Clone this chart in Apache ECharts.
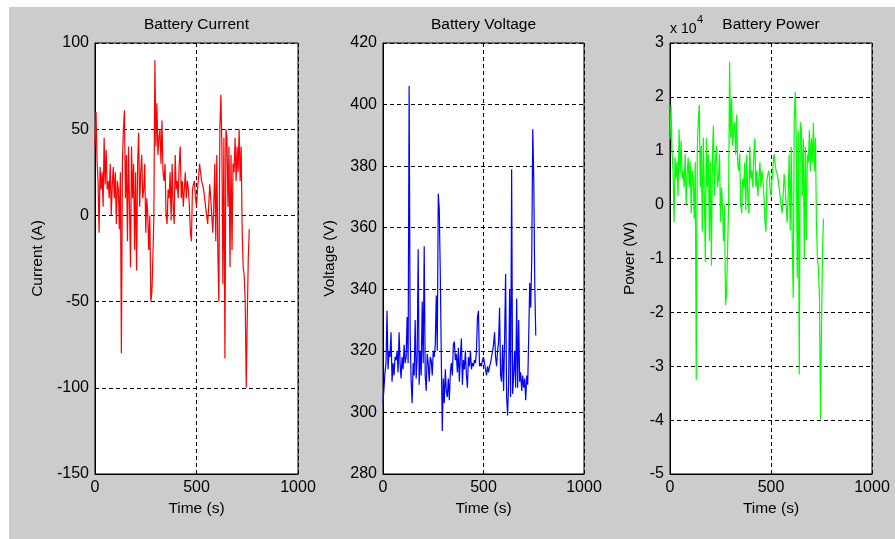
<!DOCTYPE html>
<html>
<head>
<meta charset="utf-8">
<script src="https://cdn.jsdelivr.net/npm/echarts@6/dist/echarts.min.js"></script>
<style>
  html, body { margin:0; padding:0; background:#ffffff; }
  #bg { position:absolute; left:9px; top:7px; width:886px; height:532px; background:#cccccc; }
  #chart { position:absolute; left:0; top:0; width:895px; height:539px; }
</style>
</head>
<body>
<div id="bg"></div>
<div id="chart"></div>
<script>
// sampling step of the recorded drive cycle (s)
const TIME_STEP = 5;
const TIME_TICKS = [0, 500, 1000];

// Battery current (A), one value every 5 s starting at t = 0
const currentA = [
  40, 60, 32, 20, -10, 28, 15, 25, 5, 45,
  18, 38, 15, 20, 10, 30, 0, 18, 28, 10,
  25, -5, 20, 15, -8, 25, -80, 30, 50, 61,
  10, 35, -15, 40, 5, -30, 40, 10, 30, -20,
  25, -32, 30, 48, 5, 25, 35, 10, 15, 30,
  -10, 10, 0, -20, 0, -50, -45, -25, 0, 90,
  40, 65, 35, 45, 50, 30, 55, 25, 20, 30,
  0, -5, 15, 10, 25, -3, 30, 5, -5, 35,
  15, 20, 10, 30, 40, 10, 20, 5, 15, 25,
  10, 20, 15, 5, -10, -15, 15, 18, 20, 10,
  5, 15, 22, 30, 25, 20, 18, 15, 10, 5,
  0, -5, 5, 18, 10, 0, -10, 5, 30, -15,
  35, -20, -50, 50, 70, 40, -40, 45, -83, 50,
  45, 5, 40, -30, 35, -20, 30, 25, 45, 20,
  40, 25, 50, 20, 40, -10, -30, -35, -50, -100,
  -60, -25, -8
];

// Battery voltage (V), same sampling
const voltageV = [
  303, 308, 313, 316, 333, 314, 320, 318, 326, 310,
  316, 312, 318, 317, 320, 313, 326, 316, 311, 318,
  314, 322, 316, 318, 331, 316, 406, 326, 310, 303,
  316, 312, 330, 311, 318, 353, 309, 320, 312, 336,
  316, 354, 312, 307, 319, 316, 310, 318, 317, 312,
  320, 318, 322, 338, 320, 371, 366, 345, 318, 294,
  311, 303, 314, 307, 305, 311, 304, 313, 316, 312,
  322, 323, 317, 319, 313, 321, 310, 318, 324, 309,
  317, 314, 320, 312, 308, 318, 315, 320, 314, 316,
  315, 317, 316, 320, 331, 333, 315, 316, 315, 317,
  318, 316, 314, 312, 315, 313, 315, 316, 318, 320,
  322, 326, 318, 315, 320, 323, 334, 312, 310, 322,
  307, 324, 345, 305, 299, 310, 340, 305, 379, 306,
  312, 320, 308, 337, 308, 330, 310, 313, 307, 312,
  308, 311, 304, 312, 309, 325, 342, 334, 350, 392,
  376, 342, 325
];

// Battery power (x 10^4 W), same sampling
const powerE4 = [
  1.21, 1.85, 1.00, 0.63, -0.33, 0.88, 0.48, 0.80, 0.16, 1.40,
  0.57, 1.19, 0.48, 0.63, 0.32, 0.94, 0.00, 0.57, 0.87, 0.32,
  0.79, -0.16, 0.63, 0.48, -0.26, 0.79, -3.25, 0.98, 1.55, 1.85,
  0.32, 1.09, -0.50, 1.24, 0.16, -1.06, 1.24, 0.32, 0.94, -0.67,
  0.79, -1.13, 0.94, 1.47, 0.16, 0.79, 1.09, 0.32, 0.48, 0.94,
  -0.32, 0.32, 0.00, -0.68, 0.00, -1.86, -1.65, -0.86, 0.00, 2.65,
  1.24, 1.97, 1.10, 1.38, 1.53, 0.93, 1.67, 0.78, 0.63, 0.94,
  0.00, -0.16, 0.48, 0.32, 0.78, -0.10, 0.93, 0.16, -0.16, 1.08,
  0.48, 0.63, 0.32, 0.94, 1.23, 0.32, 0.63, 0.16, 0.47, 0.79,
  0.32, 0.63, 0.47, 0.16, -0.33, -0.50, 0.47, 0.57, 0.63, 0.32,
  0.16, 0.47, 0.69, 0.94, 0.79, 0.63, 0.57, 0.47, 0.32, 0.16,
  0.00, -0.16, 0.16, 0.57, 0.32, 0.00, -0.33, 0.16, 0.93, -0.48,
  1.07, -0.65, -1.73, 1.53, 2.09, 1.24, -1.36, 1.37, -3.15, 1.53,
  1.40, 0.16, 1.23, -1.01, 1.08, -0.66, 0.93, 0.78, 1.38, 0.62,
  1.23, 0.78, 1.52, 0.62, 1.24, -0.33, -1.03, -1.17, -1.75, -3.98,
  -2.26, -0.86, -0.26
];

const TITLES = ['Battery Current', 'Battery Voltage', 'Battery Power'];
const Y_NAMES = ['Current (A)', 'Voltage (V)', 'Power (W)'];
const X_NAME = 'Time (s)';
const Y_RANGES = [[-150, 100, 50], [280, 420, 20], [-5, 3, 1]];
const COLORS = ['#ff0000', '#0000ff', '#00ff00'];
const SERIES = [currentA, voltageV, powerE4];

const FONT = 'Liberation Sans, Arial, sans-serif';
const gridBoxes = [
  { left: 95, width: 203, nameGap: 49 },
  { left: 383, width: 201, nameGap: 45 },
  { left: 670, width: 202, nameGap: 32 }
];
const TOP = 43, HEIGHT = 431;

function toPairs(arr) {
  return arr.map((v, i) => [i * TIME_STEP, v]);
}

const dash = [4, 3];
const grids = [], xAxes = [], yAxes = [], series = [], graphics = [];
gridBoxes.forEach((g, i) => {
  grids.push({ left: g.left, top: TOP, width: g.width, height: HEIGHT, show: true,
    backgroundColor: '#ffffff', borderColor: '#000000', borderWidth: 1 });
  xAxes.push({ gridIndex: i, type: 'value', min: TIME_TICKS[0], max: TIME_TICKS[2], interval: 500,
    axisLine: { show: true, onZero: false, lineStyle: { color: '#000', width: 1 } },
    axisTick: { show: true, inside: true, length: 4, lineStyle: { color: '#000' } },
    axisLabel: { color: '#000', fontSize: 16, fontFamily: FONT, margin: 6, formatter: v => String(v) },
    splitLine: { show: true, lineStyle: { color: '#000', width: 1, type: dash } },
    name: X_NAME, nameLocation: 'middle', nameGap: 26,
    nameTextStyle: { color: '#000', fontSize: 15.5, fontFamily: FONT } });
  yAxes.push({ gridIndex: i, type: 'value', min: Y_RANGES[i][0], max: Y_RANGES[i][1], interval: Y_RANGES[i][2],
    axisLine: { show: true, onZero: false, lineStyle: { color: '#000', width: 1 } },
    axisTick: { show: true, inside: true, length: 4, lineStyle: { color: '#000' } },
    axisLabel: { color: '#000', fontSize: 16, fontFamily: FONT, margin: 6, formatter: v => String(v) },
    splitLine: { show: true, lineStyle: { color: '#000', width: 1, type: dash } },
    name: Y_NAMES[i], nameLocation: 'middle', nameGap: g.nameGap, nameRotate: 90,
    nameTextStyle: { color: '#000', fontSize: 15.5, fontFamily: FONT } });
  series.push({ type: 'line', xAxisIndex: i, yAxisIndex: i, data: toPairs(SERIES[i]),
    showSymbol: false, symbol: 'none', lineStyle: { color: COLORS[i], width: 1.2 },
    itemStyle: { color: COLORS[i] }, z: 3 });
  graphics.push({ type: 'text', x: g.left + g.width / 2, y: 25,
    style: { text: TITLES[i], fill: '#000', font: '15.5px ' + FONT, textAlign: 'center', textVerticalAlign: 'middle' } });
});
graphics.push({ type: 'text', x: 670, y: 29,
  style: { text: 'x 10', fill: '#000', font: '14px ' + FONT, textAlign: 'left', textVerticalAlign: 'middle' } });
graphics.push({ type: 'text', x: 697, y: 20,
  style: { text: '4', fill: '#000', font: '11px ' + FONT, textAlign: 'left', textVerticalAlign: 'middle' } });

const chart = echarts.init(document.getElementById('chart'), null, { renderer: 'canvas' });
chart.setOption({
  backgroundColor: 'transparent',
  animation: false,
  grid: grids,
  xAxis: xAxes,
  yAxis: yAxes,
  series: series,
  graphic: graphics
});
</script>
</body>
</html>
